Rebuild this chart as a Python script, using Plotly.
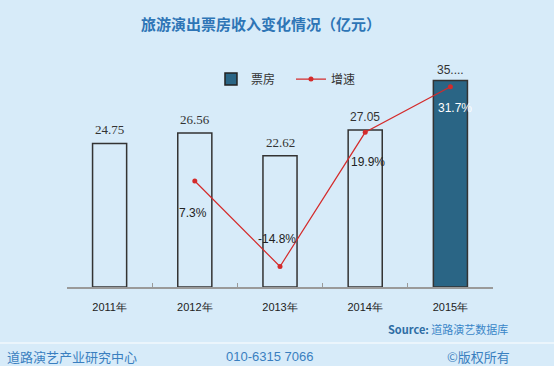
import plotly.graph_objects as go

years = ["2011年", "2012年", "2013年", "2014年", "2015年"]
revenue = [24.75, 26.56, 22.62, 27.05, 35.6]
revenue_labels = ["24.75", "26.56", "22.62", "27.05", "35...."]
growth_years = ["2012年", "2013年", "2014年", "2015年"]
growth = [7.3, -14.8, 19.9, 31.7]
growth_labels = ["7.3%", "-14.8%", "19.9%", "31.7%"]

BG = "#d7ebf9"
DARK = "#2a6585"
BLUE = "#2e75b6"
RED = "#d42b2b"
CJK = "Noto Sans CJK SC"

bar_fill = [BG, BG, BG, BG, DARK]

fig = go.Figure()
fig.add_trace(go.Bar(
    x=years, y=revenue, name="票房", width=0.4,
    marker=dict(color=bar_fill, line=dict(color="#333333", width=1.5)),
    showlegend=False,
))
# legend-only entry for the bar series (dark swatch as in the reference)
fig.add_trace(go.Bar(
    x=[None], y=[None], name="票房",
    marker=dict(color=DARK, line=dict(color="#222222", width=1.5)),
    showlegend=True,
))
fig.add_trace(go.Scatter(
    x=growth_years, y=growth, name="增速", yaxis="y2", mode="lines+markers",
    line=dict(color=RED, width=1.2), marker=dict(color=RED, size=5),
))

# bar value labels
label_fonts = ["Liberation Serif", "Liberation Serif", "Liberation Serif", "Liberation Sans", "Liberation Sans"]
label_sizes = [13, 13, 13, 12, 12]
label_shift = [4, 4, 4, 4, 2]
for yr, v, t, f, s, sh in zip(years, revenue, revenue_labels, label_fonts, label_sizes, label_shift):
    fig.add_annotation(x=yr, y=v, xref="x", yref="y", text=t, showarrow=False,
                       yanchor="bottom", yshift=sh,
                       font=dict(family=f, size=s, color="#333333"))

# growth labels
g_yshift = [-32, 28, -30, -21]
g_xshift = [-2, -3, 3, 5]
g_color = ["#222222", "#222222", "#222222", "#ffffff"]
for yr, v, t, ys, xs, c in zip(growth_years, growth, growth_labels, g_yshift, g_xshift, g_color):
    fig.add_annotation(x=yr, y=v, xref="x", yref="y2", text=t, showarrow=False,
                       yshift=ys, xshift=xs,
                       font=dict(family="Liberation Sans", size=12, color=c))

# source and footer
fig.add_annotation(x=1.04, y=-0.185, xref="paper", yref="paper", xanchor="right", yanchor="middle",
                   text="<b>Source:</b> <span style='color:#3a86c8'>道路演艺数据库</span>",
                   showarrow=False, font=dict(family=CJK, size=11, color="#2e6da4"))
fig.add_annotation(x=-0.1455, y=-0.308, xref="paper", yref="paper", xanchor="left", yanchor="middle",
                   text="道路演艺产业研究中心", showarrow=False,
                   font=dict(family=CJK, size=13, color="#3a7fc0"))
fig.add_annotation(x=0.4765, y=-0.308, xref="paper", yref="paper", xanchor="center", yanchor="middle",
                   text="010-6315 7066", showarrow=False,
                   font=dict(family="Liberation Sans", size=13, color="#3a7fc0"))
fig.add_annotation(x=1.045, y=-0.308, xref="paper", yref="paper", xanchor="right", yanchor="middle",
                   text="©版权所有", showarrow=False,
                   font=dict(family=CJK, size=13, color="#3a7fc0"))
fig.add_shape(type="line", xref="paper", yref="paper", x0=-0.16, x1=1.15,
              y0=-0.2467, y1=-0.2467, line=dict(color="#f2f8fd", width=1.5))

fig.update_layout(
    width=554, height=366,
    margin=dict(l=67, r=61, t=60, b=79),
    paper_bgcolor=BG, plot_bgcolor=BG,
    title=dict(text="<b>旅游演出票房收入变化情况（亿元）</b>", x=0.471, xanchor="center",
               xref="container", y=0.932, yref="container", yanchor="middle",
               font=dict(family=CJK, size=15, color=BLUE)),
    legend=dict(orientation="h", x=0.338, y=0.916, xanchor="left", yanchor="middle",
                bgcolor="rgba(0,0,0,0)", font=dict(family=CJK, size=12, color="#333333"),
                entrywidth=35, traceorder="normal"),
    xaxis=dict(type="category", range=[-0.5, 4.5], showline=True, linecolor="#9a9a9a", linewidth=1.5,
               ticks="inside", ticklen=4, tickcolor="#9a9a9a", tickson="boundaries",
               showgrid=False, zeroline=False, ticklabelstandoff=9,
               tickfont=dict(family="Liberation Sans", size=11, color="#222222")),
    yaxis=dict(range=[0, 39.14], visible=False, showgrid=False, zeroline=False),
    yaxis2=dict(range=[-20.1, 38.6], overlaying="y", side="right", visible=False,
                showgrid=False, zeroline=False),
    bargap=0.6,
)

fig.write_html("out.html", config={"displayModeBar": False},
               post_script="document.body.style.margin='0';")
